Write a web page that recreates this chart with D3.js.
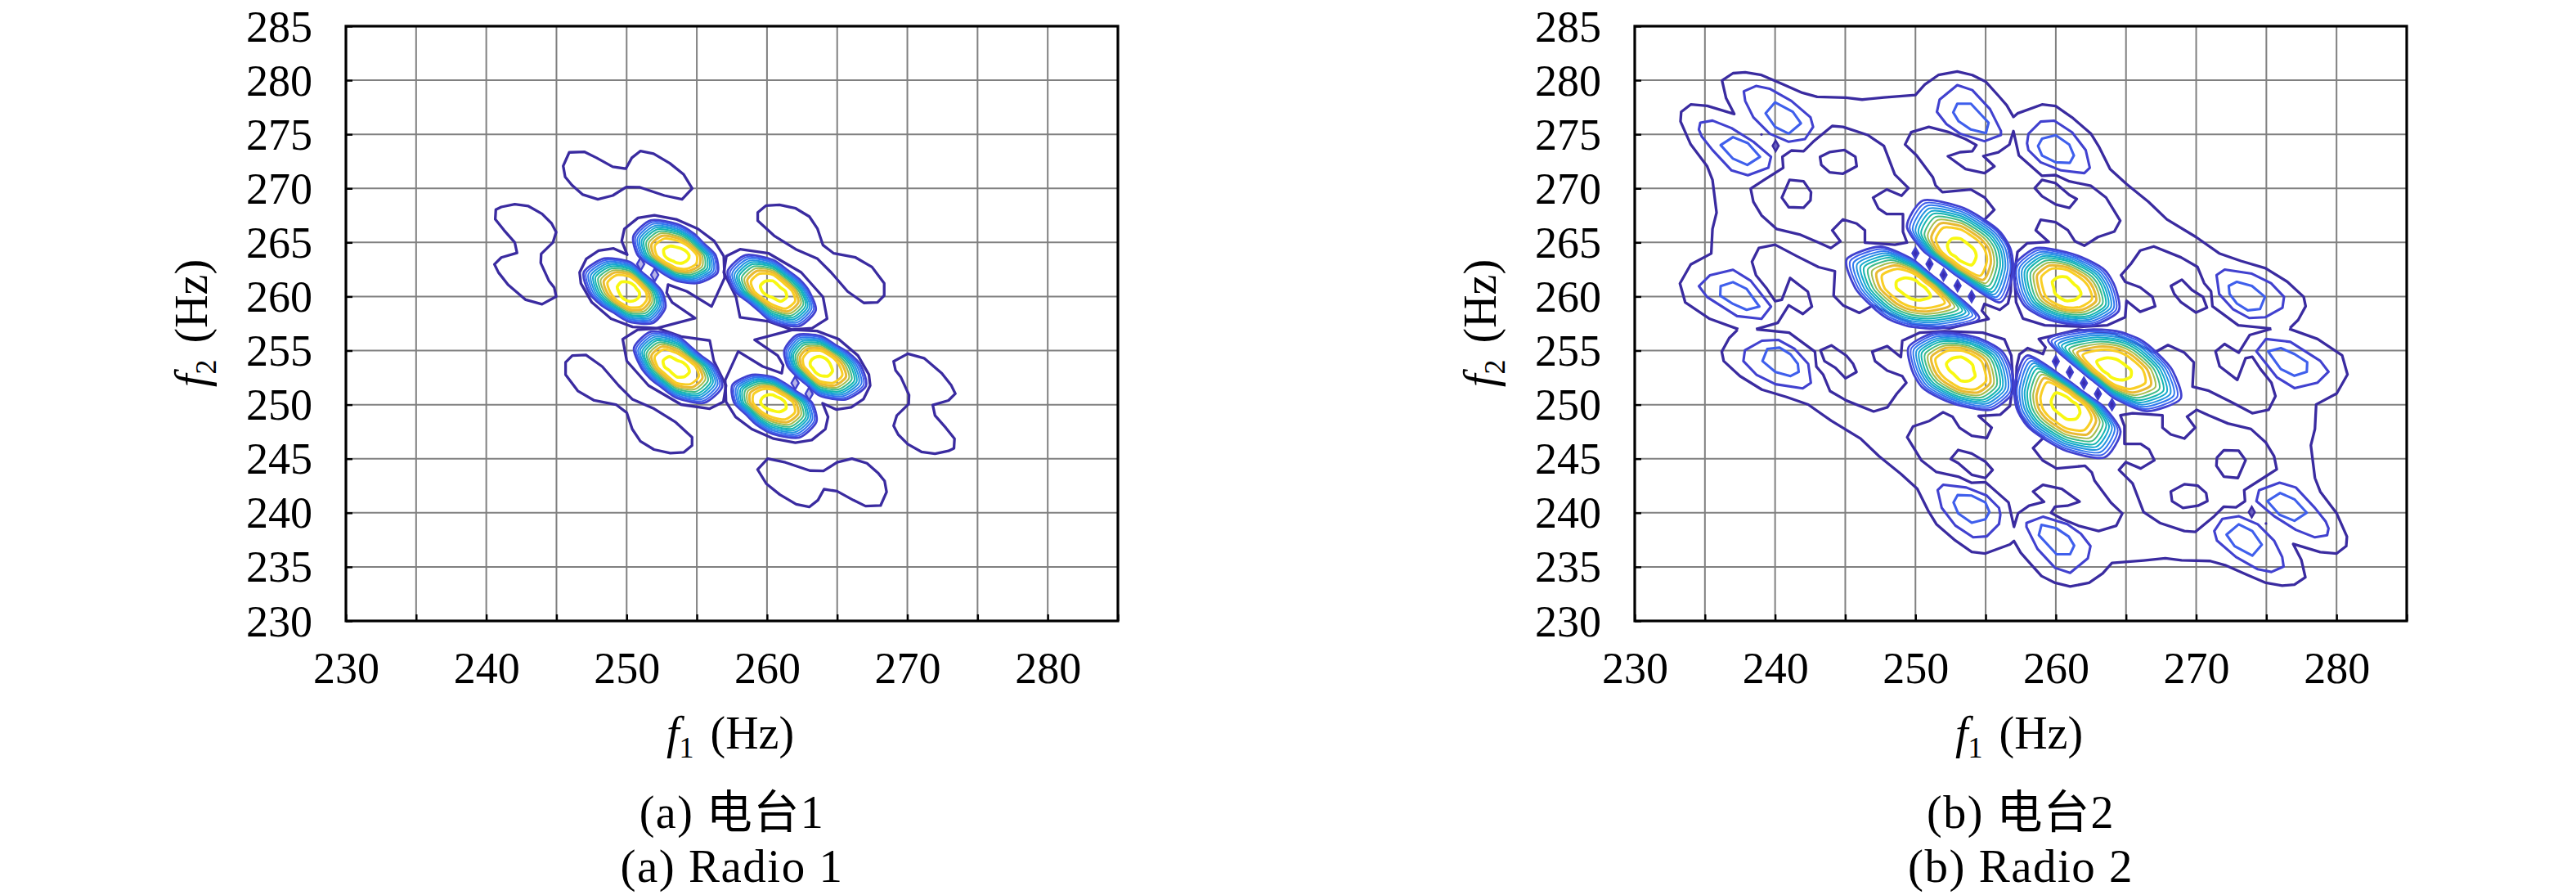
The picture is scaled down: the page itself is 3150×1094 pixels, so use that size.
<!DOCTYPE html>
<html><head><meta charset="utf-8">
<script src="https://cdnjs.cloudflare.com/ajax/libs/d3/7.8.5/d3.min.js"></script>
<style>html,body{margin:0;background:#fff}svg{display:block}</style></head>
<body><svg id="c" width="3150" height="1094"></svg>
<script>
// ---------- axes ----------
const xDomain=[230,285], yDomain=[230,285];
const xTicks=[230,235,240,245,250,255,260,265,270,275,280,285];
const yTicks=[230,235,240,245,250,255,260,265,270,275,280,285];
const xLabelled=[230,240,250,260,270,280];
const gridValues=[235,240,245,250,255,260,265,270,275,280];
const captionsZh=["(a) 电台1","(b) 电台2"], captionsEn=["(a) Radio 1","(b) Radio 2"];
// contour level colours, low to high
const levelColors=["#3a2ba0","#4141cf","#3f5fec","#3079ee","#2393df","#14a9ce","#15b5b0","#3fbb88","#a5bd4e","#e9ba33","#f9ce24","#f8f812"];
// ---------- peak rings: rows are directions 0,30,...,330 deg, columns are levels 2..12, radii in Hz ----------
const ringAngles=[0,30,60,90,120,150,180,210,240,270,300,330];
const aOffCentre=[250.2,260.4];
const aOffRings=[
[2.35,2.23,2.12,2.00,1.89,1.77,1.64,1.51,1.36,1.18,.70],
[1.95,1.86,1.76,1.67,1.57,1.48,1.37,1.26,1.14,.99,.60],
[2.00,1.91,1.82,1.73,1.64,1.55,1.44,1.34,1.22,1.08,.70],
[2.80,2.67,2.53,2.40,2.27,2.14,1.98,1.83,1.66,1.45,.90],
[3.60,3.43,3.25,3.08,2.90,2.73,2.53,2.33,2.10,1.83,1.10],
[3.75,3.56,3.37,3.17,2.98,2.79,2.57,2.35,2.10,1.80,1.00],
[2.90,2.75,2.60,2.45,2.30,2.15,1.98,1.80,1.61,1.37,.75],
[2.35,2.23,2.12,2.00,1.89,1.77,1.64,1.51,1.36,1.18,.70],
[2.20,2.10,2.00,1.90,1.79,1.69,1.58,1.46,1.33,1.17,.75],
[2.75,2.62,2.48,2.35,2.22,2.09,1.93,1.78,1.61,1.40,.85],
[3.30,3.13,2.96,2.79,2.61,2.44,2.25,2.05,1.83,1.56,.85],
[2.95,2.80,2.65,2.50,2.35,2.20,2.03,1.85,1.66,1.42,.80]];
const aDiagCentre=[260.4,260.5];
const aDiagRings=[
[2.60,2.48,2.36,2.24,2.12,2.01,1.87,1.73,1.58,1.39,.90],
[2.20,2.09,1.98,1.87,1.77,1.66,1.53,1.41,1.27,1.10,.65],
[2.20,2.10,1.99,1.89,1.78,1.68,1.56,1.44,1.30,1.14,.70],
[2.90,2.76,2.63,2.49,2.35,2.22,2.06,1.91,1.73,1.52,.95],
[3.85,3.65,3.46,3.26,3.07,2.87,2.65,2.42,2.17,1.86,1.05],
[3.70,3.51,3.32,3.13,2.94,2.76,2.54,2.32,2.08,1.78,1.00],
[2.70,2.56,2.43,2.29,2.15,2.02,1.86,1.71,1.53,1.32,.75],
[2.00,1.90,1.80,1.71,1.61,1.51,1.40,1.29,1.16,1.01,.60],
[2.05,1.95,1.84,1.74,1.63,1.53,1.41,1.29,1.15,.99,.55],
[2.85,2.69,2.54,2.38,2.22,2.06,1.88,1.70,1.50,1.25,.60],
[3.75,3.56,3.38,3.19,3.01,2.82,2.61,2.40,2.16,1.87,1.10],
[3.55,3.38,3.21,3.05,2.88,2.71,2.52,2.33,2.11,1.85,1.15]];
const bOffCentre=[249.7,260.8];
const bOffRings=[
[2.60,2.50,2.40,2.30,2.20,2.10,2.00,1.88,1.72,1.50,1.00],
[1.93,1.86,1.79,1.72,1.65,1.57,1.48,1.38,1.26,1.10,.70],
[1.96,1.89,1.82,1.75,1.68,1.60,1.50,1.41,1.29,1.14,.75],
[2.70,2.58,2.46,2.34,2.22,2.10,1.96,1.82,1.65,1.43,.85],
[4.40,4.17,3.93,3.70,3.46,3.23,2.96,2.69,2.39,2.02,1.05],
[5.30,5.01,4.73,4.44,4.15,3.87,3.54,3.21,2.84,2.39,1.20],
[4.00,3.79,3.59,3.38,3.17,2.97,2.73,2.50,2.23,1.91,1.05],
[3.30,3.13,2.95,2.78,2.60,2.43,2.23,2.03,1.80,1.53,.80],
[3.30,3.13,2.95,2.78,2.60,2.43,2.23,2.03,1.80,1.53,.80],
[3.60,3.42,3.24,3.05,2.87,2.69,2.48,2.27,2.04,1.75,1.00],
[4.30,4.09,3.88,3.67,3.46,3.25,3.01,2.77,2.50,2.17,1.30],
[5.60,5.32,5.04,4.76,4.48,4.20,3.88,3.56,3.20,2.76,1.60]];
const bDiagCentre=[260.75,260.8];
const bDiagRings=[
[3.50,3.31,3.13,2.94,2.76,2.57,2.36,2.15,1.91,1.62,.85],
[3.20,3.02,2.84,2.66,2.49,2.31,2.10,1.90,1.67,1.39,.65],
[3.00,2.84,2.68,2.52,2.36,2.20,2.01,1.83,1.62,1.37,.70],
[3.30,3.14,2.98,2.82,2.66,2.50,2.31,2.13,1.92,1.67,1.00],
[4.25,4.03,3.82,3.60,3.38,3.17,2.92,2.67,2.39,2.05,1.15],
[4.25,4.03,3.82,3.60,3.38,3.17,2.92,2.67,2.39,2.05,1.15],
[3.60,3.41,3.22,3.03,2.84,2.66,2.44,2.22,1.98,1.68,.90],
[3.40,3.23,3.06,2.89,2.71,2.54,2.35,2.15,1.93,1.66,.95],
[3.20,3.05,2.89,2.74,2.58,2.43,2.25,2.08,1.88,1.64,1.00],
[3.30,3.15,3.01,2.86,2.71,2.57,2.40,2.23,2.04,1.81,1.20],
[3.95,3.76,3.57,3.38,3.19,3.01,2.79,2.57,2.33,2.03,1.25],
[4.30,4.08,3.87,3.65,3.43,3.22,2.97,2.72,2.44,2.10,1.20]];
// ---------- panel (a), lowest level contours: [f1,f2]; the lower half is the same set through (257,257) ----------
const aLoopPair=[[251.98,267.52],[253.53,267.14],[255.08,266.26],[256.24,265.13],[256.92,263.74],[256.98,261.73],[256.05,259.08],[254.30,260.47],[252.95,261.10],[252.85,260.34],[253.24,259.46],[254.88,258.0],[252.17,257.07],[250.43,257.19],[248.88,257.95],[247.52,259.46],[246.74,261.22],[246.65,262.23],[247.13,263.49],[248.0,264.24],[249.07,264.45],[250.04,263.87],[249.65,265.13],[249.84,266.26],[250.81,267.27]];
const aLoopDiag=[[258.08,264.37],[257.11,263.74],[256.92,262.23],[257.79,259.96],[258.08,258.07],[260.12,257.7],[261.76,256.94],[263.22,257.07],[264.28,257.95],[263.99,259.96],[262.44,262.23],[260.12,263.99]];
const aLobeUpperRight=[[259.34,267.77],[259.92,268.4],[260.89,268.48],[262.05,268.15],[263.02,267.39],[263.6,266.26],[263.99,264.75],[264.76,263.99],[266.31,263.61],[267.48,262.73],[268.35,261.22],[268.35,260.09],[267.87,259.46],[266.9,259.41],[265.74,260.47],[264.57,262.23],[263.6,263.49],[262.05,264.37],[260.5,265.63],[259.34,267.02]];
const aLobeTop=[[245.91,273.33],[246.98,273.38],[247.85,272.83],[249.01,272.0],[249.94,271.82],[250.37,272.83],[250.99,273.46],[251.92,273.21],[253.08,272.32],[254.05,271.31],[254.67,270],[253.95,268.99],[252.69,269.34],[250.95,270.1],[249.98,270.13],[249.01,269.34],[247.95,268.99],[246.88,269.42],[246.1,270.3],[245.62,271.06],[245.48,272.07]];
const aLobeLeft=[[240.68,268.03],[241.07,268.28],[242.03,268.54],[243.0,268.36],[243.97,267.65],[244.65,266.77],[244.98,265.96],[244.75,265],[243.91,263.94],[243.88,263.11],[244.46,261.46],[244.84,260.83],[244.98,260],[243.97,259.29],[242.81,259.7],[241.55,261.09],[240.87,262.22],[240.58,262.98],[241.07,263.61],[242.19,264.04],[242.03,265],[241.26,266.14],[240.64,267.15]];
const aDots=[[251,263],[252,262]];
// ---------- panel (b) ----------
const bOuter=[[237.38,256.98],[235.35,257.93],[233.6,259.45],[233.22,261.21],[233.99,262.97],[235.45,263.98],[235.54,266.25],[235.83,267.76],[235.54,270.78],[235.16,272.04],[233.99,274.06],[233.26,276.2],[233.31,277.08],[233.99,277.76],[235.16,277.63],[237.09,276.88],[236.51,278.34],[236.22,279.97],[237.0,280.65],[237.87,280.73],[239.03,280.48],[240.39,279.72],[241.94,278.84],[243.0,278.46],[245.04,278.39],[246.2,278.21],[247.75,278.41],[250.0,278.64],[250.66,279.6],[251.63,280.48],[252.98,280.81],[254.05,280.48],[255.02,279.85],[255.91,278.57],[256.5,277.69],[256.98,276.61],[257.27,276.93],[259.02,277.76],[259.99,277.61],[261.16,276.56],[262.51,275.05],[263.1,273.79],[263.87,271.78],[265.04,270.4],[266.59,268.77],[267.91,267.14],[269.99,265.5],[271.64,263.99],[273.19,263.29],[274.94,262.61],[276.5,261.36],[277.66,259.97],[277.8,259.1],[277.27,257.84],[276.69,257.09]];
const bInner=[[238.64,256.98],[240.19,257.56],[240.97,259.19],[241.98,258.39],[242.62,259.07],[242.33,260.45],[241.07,261.71],[240.48,259.7],[240.0,259.57],[239.42,260.71],[238.64,261.96],[238.35,263.22],[238.84,264.48],[240.0,264.79],[241.55,263.73],[243.1,262.72],[244.26,262.34],[244.17,260.08],[244.84,259.19],[246.01,258.49],[246.98,259.19],[247.95,258.56],[249.88,257.43],[252.4,257.05],[255.21,257.93],[254.73,258.69],[254.92,259.32],[256.01,258.77],[256.59,259.35],[256.79,260.48],[256.84,262.99],[256.59,264.75],[255.72,266.26],[254.84,267.01],[255.62,268.02],[254.94,269.15],[253.95,269.9],[251.92,269.65],[251.43,270.28],[251.24,271.03],[250.08,273.05],[249.26,274.06],[249.69,275.19],[250.95,275.69],[252.4,275.19],[253.57,274.56],[254.34,274.0],[254.05,273.43],[253.18,273.35],[252.31,272.97],[253.57,271.79],[254.92,271.41],[255.62,272.04],[254.84,272.99],[255.91,273.34],[256.69,274.05],[256.98,275.3],[257.37,273.04],[259.02,271.16],[259.99,271.23],[260.96,270.65],[262.51,270.23],[263.58,269.15],[264.59,267.01],[264.17,266.01],[263.0,265.5],[262.03,264.7],[261.35,265.13],[260.86,266.13],[259.99,266.88],[258.92,267.09],[258.57,266.13],[259.5,265.05],[257.95,264.92],[257.27,264.12],[257.04,261.98],[257.17,259.47],[257.66,257.96],[259.21,257.34],[261.93,257.21],[263.68,257.34],[264.94,258.09],[265.04,259.6],[266.01,258.59],[267.08,259.1],[266.88,259.97],[266.01,260.85],[264.94,261.36],[264.65,261.98],[265.33,262.99],[266.01,264.25],[266.98,264.63],[268.92,263.62],[270.09,262.74],[270.57,261.23],[271.06,260.48],[271.16,259.1],[273.0,257.34],[275.33,257.03]];
const bIslandBig=[[249.5,270.03],[249.01,269.32],[247.95,269.9],[246.98,269.14],[247.36,268.14],[247.95,267.63],[249.11,267.63],[249.11,265.99],[249.4,264.99],[248.53,264.79],[246.4,264.99],[246.4,266.12],[245.81,266.75],[244.84,267.13],[244.07,266.12],[244.65,265.11],[243.97,264.48],[243.1,264.99],[241.74,265.74],[240.1,266.25],[239.03,267.51],[238.45,268.77],[238.26,269.97],[239.22,270.78],[240.58,271.91],[240.52,272.92],[241.16,273.5],[242.03,273.43],[242.71,274.31],[244.07,275.77],[244.84,275.69],[246.59,274.94],[247.75,273.93],[248.53,271.28]];
const bIsland1=[[243.2,272.92],[243.88,273.35],[244.94,273.55],[245.72,272.92],[245.81,272.04],[244.84,271.36],[243.88,271.49],[243.29,272.17]];
const bIsland2=[[241.03,270.78],[242.03,270.65],[242.56,269.65],[242.52,268.89],[242.03,268.21],[240.97,268.26],[240.48,269.14]];
const bIsland3=[[258.5,270.03],[259.02,270.78],[259.99,270.48],[260.96,269.4],[261.49,269.02],[260.96,268.19],[259.99,268.52],[259.02,269.27]];
const bIsland4=[[268.2,260.98],[268.98,261.56],[269.7,260.6],[270.48,259.97],[270.77,258.97],[269.99,258.52],[268.92,259.47],[268.44,260.23]];
const bLobesLevel2=[
[[237.77,278.97],[238.64,279.47],[239.61,279.22],[241.16,278.09],[242.52,276.57],[242.71,275.69],[242.13,274.56],[240.97,274.31],[239.61,275.06],[238.45,276.57],[237.87,278.09]],
[[234.67,276.07],[235.54,276.27],[236.9,275.57],[238.45,274.31],[239.71,272.92],[239.52,271.91],[238.06,271.21],[236.9,271.66],[235.54,273.55],[234.77,274.81],[234.57,275.44]],
[[251.53,277.08],[251.72,278.21],[252.98,279.55],[254.05,279.09],[255.31,277.33],[256.09,275.31],[256.09,274.94],[254.92,274.36],[253.18,275.06],[252.21,275.94]],
[[234.57,260.96],[235.35,261.96],[237.0,262.47],[238.26,261.46],[239.71,259.07],[239.03,257.93],[237.29,258.19],[235.16,259.95]],
[[257.95,274.17],[258.05,275.05],[258.92,276.18],[259.89,276.26],[261.16,275.18],[262.13,273.54],[262.42,271.91],[262.03,271.41],[260.38,271.66],[258.92,272.41],[258.05,273.54]],
[[271.45,261.98],[272.03,262.49],[273.97,262.11],[275.33,261.23],[276.26,259.97],[276.15,258.97],[274.94,258.09],[273.78,258.01],[272.61,258.84],[271.64,260.23]]];
const bLobesLevel3=[
[[239.32,276.95],[240.0,277.96],[241.26,277.08],[241.84,276.02],[240.97,275.06],[240.0,275.69]],
[[236.12,274.0],[237.0,274.74],[238.06,274.18],[238.93,272.92],[238.02,272.17],[237.0,272.75]],
[[252.69,277.03],[252.98,277.83],[253.95,277.83],[255.21,276.07],[255.02,275.11],[253.95,275.44],[253.08,276.2]],
[[236.12,260.96],[237.0,261.33],[237.97,260.71],[238.88,259.07],[237.97,258.77],[237.0,259.32],[236.09,260.08]],
[[258.73,273.92],[259.02,274.6],[259.99,274.92],[260.96,274.05],[261.29,273.04],[261.0,272.36],[259.99,272.41],[259.02,273.04]],
[[272.32,260.98],[272.9,261.36],[273.97,260.98],[274.9,259.97],[274.55,258.84],[273.68,258.72],[272.9,259.35],[272.38,260.23]]];
const bDots=[[250,264],[251,263],[252,262],[253,261],[254,260]];
const bSmallDiamonds=[[240.04,273.93]];
const bTinyDots=[[239.03,274.99]];

// ---------- symmetries of the plane ----------
const same=p=>p, swap=p=>[p[1],p[0]], turn=p=>[514-p[0],514-p[1]], turnSwap=p=>[514-p[1],514-p[0]];

const svg=d3.select("#c");
const serif="'Liberation Serif','Noto Sans CJK SC',serif";
const yS=d3.scaleLinear().domain(yDomain).range([759,32]);
let uid=0;

function ring(centre,table,level){
  return ringAngles.map((a,j)=>{const t=a*Math.PI/180;
    return [centre[0]+table[j][level]*Math.cos(t),centre[1]+table[j][level]*Math.sin(t)];});
}
function panel(left,right,p){
  const xS=d3.scaleLinear().domain(xDomain).range([left,right]);
  const g=svg.append("g");
  const lineOpen=d3.line().x(d=>xS(d[0])).y(d=>yS(d[1]));
  const lineClosed=d3.line().x(d=>xS(d[0])).y(d=>yS(d[1])).curve(d3.curveLinearClosed);
  const lineRing=d3.line().x(d=>xS(d[0])).y(d=>yS(d[1])).curve(d3.curveCardinalClosed.tension(0.25));
  const drawGrid=(sel)=>{
    sel.selectAll("line.v").data(gridValues).join("line").attr("class","v")
      .attr("x1",d=>xS(d)).attr("x2",d=>xS(d)).attr("y1",yS(230)).attr("y2",yS(285));
    sel.selectAll("line.h").data(gridValues).join("line").attr("class","h")
      .attr("y1",d=>yS(d)).attr("y2",d=>yS(d)).attr("x1",xS(230)).attr("x2",xS(285));
    sel.attr("stroke","#808080").attr("stroke-width",2);
  };
  drawGrid(g.append("g"));
  const blobs=[];
  [same,swap,turn,turnSwap].forEach(f=>blobs.push({c:p.offC,t:p.off,f}));
  [same,turn].forEach(f=>blobs.push({c:p.diagC,t:p.diag,f}));
  // white ground under each peak
  blobs.forEach(b=>{
    g.append("path").attr("d",lineRing(ring(b.c,b.t,0).map(b.f))).attr("fill","#fff").attr("stroke","none");
  });
  // grid shows through near each peak's centre
  blobs.forEach(b=>{
    const id="clip"+(uid++);
    g.append("clipPath").attr("id",id).append("path").attr("d",lineRing(ring(b.c,b.t,8).map(b.f)));
    drawGrid(g.append("g").attr("clip-path",`url(#${id})`));
  });
  const stroke=(d,col,w)=>g.append("path").attr("d",d).attr("fill","none").attr("stroke",col).attr("stroke-width",w).attr("stroke-linejoin","round");
  p.closed.forEach(l=>{[same,turn].forEach(f=>stroke(lineClosed(l.map(f)),levelColors[0],3.3));});
  p.open.forEach(l=>{[same,turn].forEach(f=>stroke(lineOpen(l.map(f)),levelColors[0],3.3));});
  p.lobes2.forEach(l=>{[same,turn].forEach(f=>stroke(lineClosed(l.map(f)),levelColors[1],3.1));});
  p.lobes3.forEach(l=>{[same,turn].forEach(f=>stroke(lineClosed(l.map(f)),levelColors[2],3.1));});
  blobs.forEach(b=>{
    for(let k=0;k<b.t[0].length;k++) stroke(lineRing(ring(b.c,b.t,k).map(b.f)),levelColors[k+1],k===10?3.8:(k>=8?3:(k===0?2.8:2)));
  });
  const sym=d3.symbol().type(d3.symbolDiamond);
  const allDots=p.dots.concat(p.dots.map(turn));
  g.selectAll("path.dot").data(allDots).join("path").attr("class","dot")
    .attr("transform",d=>`translate(${xS(d[0])},${yS(d[1])})`).attr("d",sym.size(p.dotSize)())
    .attr("fill",p.dotFill).attr("stroke","#4040cc").attr("stroke-width",2.4);
  const smalls=p.small.concat(p.small.map(turn));
  g.selectAll("path.sm").data(smalls).join("path").attr("class","sm")
    .attr("transform",d=>`translate(${xS(d[0])},${yS(d[1])})`).attr("d",sym.size(50)())
    .attr("fill","#6a60c0").attr("stroke",levelColors[0]).attr("stroke-width",2.4);
  const tiny=p.tiny.concat(p.tiny.map(turn));
  g.selectAll("circle.t").data(tiny).join("circle").attr("class","t")
    .attr("cx",d=>xS(d[0])).attr("cy",d=>yS(d[1])).attr("r",1.6).attr("fill",levelColors[0]);
  // frame
  g.append("rect").attr("x",left).attr("y",32).attr("width",right-left).attr("height",727).attr("fill","none").attr("stroke","#000").attr("stroke-width",3.2);
  // axes
  const ax=g.append("g").attr("transform","translate(0,759)")
    .call(d3.axisBottom(xS).tickValues(xTicks).tickSize(-8).tickFormat(d=>xLabelled.includes(d)?d:""));
  ax.select(".domain").remove();
  ax.selectAll("line").attr("stroke","#000").attr("stroke-width",2.4);
  ax.selectAll("text").attr("y",76).attr("dy",0).attr("fill","#000").attr("font-family",serif).attr("font-size",54);
  const ay=g.append("g").attr("transform",`translate(${left},0)`)
    .call(d3.axisLeft(yS).tickValues(yTicks).tickSize(-8).tickFormat(d=>d));
  ay.select(".domain").remove();
  ay.selectAll("line").attr("stroke","#000").attr("stroke-width",2.4);
  ay.selectAll("text").attr("x",-41).attr("dy",18).attr("fill","#000").attr("font-family",serif).attr("font-size",54);
  // axis titles
  const mid=(left+right)/2;
  const xt=g.append("text").attr("x",mid-2).attr("y",915).attr("text-anchor","middle").attr("font-family",serif).attr("font-size",56);
  xt.append("tspan").attr("font-style","italic").text("f");
  xt.append("tspan").attr("font-size",36).attr("dy",11).text("1");
  xt.append("tspan").attr("dy",-11).attr("dx",6).text(" (Hz)");
  const yt=g.append("text").attr("transform",`translate(${left-170},395) rotate(-90)`).attr("text-anchor","middle").attr("font-family",serif).attr("font-size",56);
  yt.append("tspan").attr("font-style","italic").text("f");
  yt.append("tspan").attr("font-size",36).attr("dy",11).text("2");
  yt.append("tspan").attr("dy",-11).attr("dx",6).text(" (Hz)");
  // captions
  g.append("text").attr("x",mid).attr("y",1012).attr("text-anchor","middle").attr("font-family",serif).attr("font-size",56).attr("letter-spacing",1.5).text(p.zh);
  g.append("text").attr("x",mid).attr("y",1078).attr("text-anchor","middle").attr("font-family",serif).attr("font-size",57).attr("letter-spacing",1.5).text(p.en);
}
panel(423,1367,{off:aOffRings,offC:aOffCentre,diag:aDiagRings,diagC:aDiagCentre,
  closed:[aLoopPair,aLoopDiag,aLobeUpperRight,aLobeTop,aLobeLeft],open:[],lobes2:[],lobes3:[],
  dots:aDots,dotSize:70,dotFill:"#b8b4e8",small:[],tiny:[],zh:captionsZh[0],en:captionsEn[0]});
panel(1999,2943,{off:bOffRings,offC:bOffCentre,diag:bDiagRings,diagC:bDiagCentre,
  closed:[bIslandBig,bIsland1,bIsland2,bIsland3,bIsland4],open:[bOuter,bInner],lobes2:bLobesLevel2,lobes3:bLobesLevel3,
  dots:bDots,dotSize:50,dotFill:"#3a2bb0",small:bSmallDiamonds,tiny:bTinyDots,zh:captionsZh[1],en:captionsEn[1]});
</script></body></html>
